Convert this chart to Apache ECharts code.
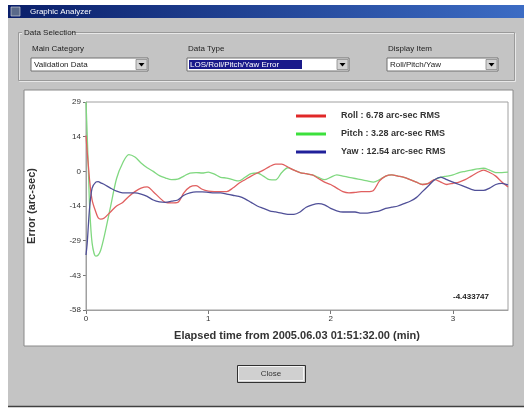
<!DOCTYPE html>
<html>
<head>
<meta charset="utf-8">
<script src="https://cdn.jsdelivr.net/npm/echarts@6/dist/echarts.min.js"></script>
<style>
html,body{margin:0;padding:0;background:#fff;}
#c{width:524px;height:408px;}
</style>
</head>
<body>
<div id="c"></div>
<script>
// ---- data ----
const times = [0,0.01,0.02,0.03,0.05,0.08,0.1,0.12,0.15,0.2,0.25,0.3,0.35,0.4,0.45,0.5,0.55,0.6,0.65,0.7,0.75,0.8,0.85,0.9,0.95,1.0,1.05,1.1,1.15,1.2,1.25,1.3,1.35,1.4,1.45,1.5,1.55,1.6,1.65,1.7,1.75,1.8,1.85,1.9,1.95,2.0,2.05,2.1,2.15,2.2,2.25,2.3,2.35,2.4,2.45,2.5,2.55,2.6,2.65,2.7,2.75,2.8,2.85,2.9,2.95,3.0,3.05,3.1,3.15,3.2,3.25,3.3,3.35,3.4,3.45];
const roll  = [15,8,2,-4,-12,-17,-19.5,-20,-19.5,-17,-14.5,-13,-10.5,-8.5,-7,-6.5,-8.5,-11,-13,-13.2,-13,-9,-6.5,-6,-7.5,-8.3,-8.5,-8.5,-8.5,-7,-5,-3.5,-2,-0.7,0.5,2,3,3,1.8,0.5,-0.5,-1,-1.5,-3,-4.5,-5.5,-7,-8.5,-9,-8.8,-8.5,-8.5,-8,-4,-2,-1.5,-2,-2.5,-3.5,-4.5,-5.5,-5,-3.5,-4.5,-5.5,-5,-4.5,-3.5,-2,-0.5,0.5,-0.5,-2,-4.5,-6.5];
const pitch = [29,15,0,-15,-30,-35.5,-35,-33,-27,-15,-3,3.5,7,6,3.5,1.5,0,-1.8,-2.8,-3.5,-3.3,-2,-0.7,-0.5,-0.7,-0.3,-1.2,-2.5,-2.8,-3.5,-4,-2.5,-1,-0.7,-2,-3.5,-3.6,-0.5,1.5,0.5,-0.5,-1,-1.5,-2.5,-3.5,-2.5,-1.5,-2,-2.5,-3,-3.5,-4,-4.5,-3.5,-2,-1.5,-2,-2.5,-3.5,-4.5,-5.5,-5,-3.5,-2.5,-2,-1.5,-0.5,0,0.5,1,1.3,0.5,-0.5,-0.5,-0.3];
const yaw   = [-35,-30,-22,-15,-7,-4.5,-4.3,-4.8,-5.5,-7,-8.3,-9,-9,-9,-9.5,-10.5,-12,-12.8,-13,-12.5,-12,-10,-9,-8.6,-8.6,-8.8,-9,-9,-9.5,-10,-10.5,-11.5,-13,-14.5,-15.5,-16.5,-17,-17.5,-18,-18,-17,-15,-14,-13.5,-14,-15.5,-16.5,-17,-17,-17,-17.5,-17.5,-17,-16.5,-15.5,-15,-14.5,-13.5,-12.5,-11,-8.5,-6,-3.5,-2.4,-3.5,-4.5,-5.5,-6.5,-7.5,-8,-8,-7,-5.5,-5,-5.7];
const seriesNames = ['Roll : 6.78 arc-sec RMS','Pitch : 3.28 arc-sec RMS','Yaw : 12.54 arc-sec RMS'];
const xTicks = [0,1,2,3];
const yTicks = [29,14,0,-14,-29,-43,-58];
const cornerNote = '-4.433747';

function pairs(vals){ return times.map((t,i)=>[t, vals[i]]); }

const chart = echarts.init(document.getElementById('c'), null, {renderer:'canvas'});
const F = 'Liberation Sans, Arial, sans-serif';
const gray = '#c4c4c4';

function combo(x, w, text, highlight){
  const els = [
    {type:'rect', shape:{x:x,y:58,width:w,height:13}, style:{fill:'#fff', stroke:'#707070', lineWidth:1}},
    {type:'rect', shape:{x:x+w-12,y:59.5,width:11,height:10}, style:{fill:'#d4d4d4', stroke:'#888', lineWidth:0.8}},
    {type:'polygon', shape:{points:[[x+w-9.5,63],[x+w-3.5,63],[x+w-6.5,66.5]]}, style:{fill:'#000'}}
  ];
  if (highlight) els.push({type:'rect', shape:{x:x+2,y:60,width:highlight,height:9}, style:{fill:'#1a1a8a'}});
  els.push({type:'text', x:x+3, y:64.5, style:{text:text, fill: highlight?'#fff':'#222', font:'8px '+F, verticalAlign:'middle'}});
  return els;
}

const graphics = [
  {type:'rect', z:-20, shape:{x:8,y:5,width:516,height:402}, style:{fill:gray}},
  {type:'line', z:-19, shape:{x1:8,y1:406.5,x2:524,y2:406.5}, style:{stroke:'#404040', lineWidth:1.5}},
  {type:'rect', z:-19, shape:{x:8,y:5,width:516,height:13}, style:{fill:new echarts.graphic.LinearGradient(0,0,1,0,[{offset:0,color:'#0a1f6a'},{offset:1,color:'#3c6cc4'}])}},
  {type:'rect', z:-18, shape:{x:11,y:7,width:9,height:9}, style:{fill:'#5a6a8a', stroke:'#ddd', lineWidth:0.6}},
  {type:'text', z:-18, x:30, y:11.5, style:{text:'Graphic Analyzer', fill:'#fff', font:'8px '+F, verticalAlign:'middle'}},
  {type:'rect', z:-19, shape:{x:19.5,y:33.5,width:496,height:48}, style:{fill:'none', stroke:'#e8e8e8', lineWidth:1}},
  {type:'rect', z:-19, shape:{x:18.5,y:32.5,width:496,height:48}, style:{fill:'none', stroke:'#9a9a9a', lineWidth:1}},
  {type:'rect', z:-18, shape:{x:22,y:27,width:50,height:11}, style:{fill:gray}},
  {type:'text', z:-18, x:24, y:32.5, style:{text:'Data Selection', fill:'#222', font:'8px '+F, verticalAlign:'middle'}},
  {type:'text', z:-18, x:32, y:49, style:{text:'Main Category', fill:'#222', font:'8px '+F, verticalAlign:'middle'}},
  {type:'text', z:-18, x:188, y:49, style:{text:'Data Type', fill:'#222', font:'8px '+F, verticalAlign:'middle'}},
  {type:'text', z:-18, x:388, y:49, style:{text:'Display Item', fill:'#222', font:'8px '+F, verticalAlign:'middle'}},
  ...combo(31,117,'Validation Data',0),
  ...combo(187,162,'LOS/Roll/Pitch/Yaw Error',113),
  ...combo(387,111,'Roll/Pitch/Yaw',0),
  {type:'rect', z:-15, shape:{x:24,y:90,width:489,height:256}, style:{fill:'#fff', stroke:'#8a8a8a', lineWidth:1}},
  {type:'text', z:10, x:489, y:297, style:{text:cornerNote, fill:'#222', font:'bold 8px '+F, align:'right', verticalAlign:'middle'}},
  {type:'rect', z:-10, shape:{x:237.5,y:365.5,width:68,height:17}, style:{fill:'#d0d0d0', stroke:'#303030', lineWidth:1}},
  {type:'rect', z:-9, shape:{x:238.5,y:366.5,width:65,height:14}, style:{fill:'none', stroke:'#f4f4f4', lineWidth:1}},
  {type:'text', z:-8, x:271, y:374, style:{text:'Close', fill:'#333', font:'8px '+F, align:'center', verticalAlign:'middle'}}
];

chart.setOption({
  backgroundColor:'#fff',
  animation:false,
  graphic: graphics,
  grid:{left:86, right:16, top:102, bottom:98, show:true, borderColor:'#a0a0a0', borderWidth:1, backgroundColor:'transparent', z:1},
  legend:{
    orient:'vertical', left:291, top:105.5, itemWidth:30, itemHeight:3, itemGap:7, icon:'rect',
    data: seriesNames,
    textStyle:{fontFamily:F, fontSize:9, fontWeight:'bold', color:'#333', lineHeight:11, padding:[0,0,0,10]}
  },
  xAxis:{
    type:'value', min:0, max:3.45, interval:1,
    name:'Elapsed time from 2005.06.03 01:51:32.00 (min)', nameLocation:'middle', nameGap:20,
    nameTextStyle:{fontFamily:F, fontSize:11, fontWeight:'bold', color:'#333'},
    axisLine:{show:true, onZero:false, lineStyle:{color:'#a0a0a0'}},
    axisTick:{show:true, length:4, lineStyle:{color:'#777'}, customValues: xTicks},
    axisLabel:{fontFamily:F, fontSize:8, color:'#333', margin:5, customValues: xTicks, formatter:v=>String(v)},
    splitLine:{show:false}
  },
  yAxis:{
    type:'value', min:-58, max:29, interval:14.5,
    name:'Error (arc-sec)', nameLocation:'middle', nameGap:49,
    nameTextStyle:{fontFamily:F, fontSize:11, fontWeight:'bold', color:'#333'},
    axisLine:{show:true, onZero:false, lineStyle:{color:'#a0a0a0'}},
    axisTick:{show:true, length:3, lineStyle:{color:'#777'}},
    axisLabel:{fontFamily:F, fontSize:8, color:'#333', margin:5, formatter:(v)=>{
      const r = Math.trunc(v); const m = yTicks.find(t=>Math.abs(t-r)<=0.6); return String(m!==undefined?m:r);
    }},
    splitLine:{show:false}
  },
  series:[
    {name:seriesNames[0], type:'line', data:pairs(roll), showSymbol:false, symbol:'none', smooth:0.3, color:'#e02828', lineStyle:{width:1.3, color:'#e06060'}, z:3},
    {name:seriesNames[1], type:'line', data:pairs(pitch), showSymbol:false, symbol:'none', smooth:0.3, color:'#3ce03c', lineStyle:{width:1.3, color:'#80d880'}, z:2},
    {name:seriesNames[2], type:'line', data:pairs(yaw), showSymbol:false, symbol:'none', smooth:0.3, color:'#20209a', lineStyle:{width:1.3, color:'#505098'}, z:4}
  ]
});
</script>
</body>
</html>
